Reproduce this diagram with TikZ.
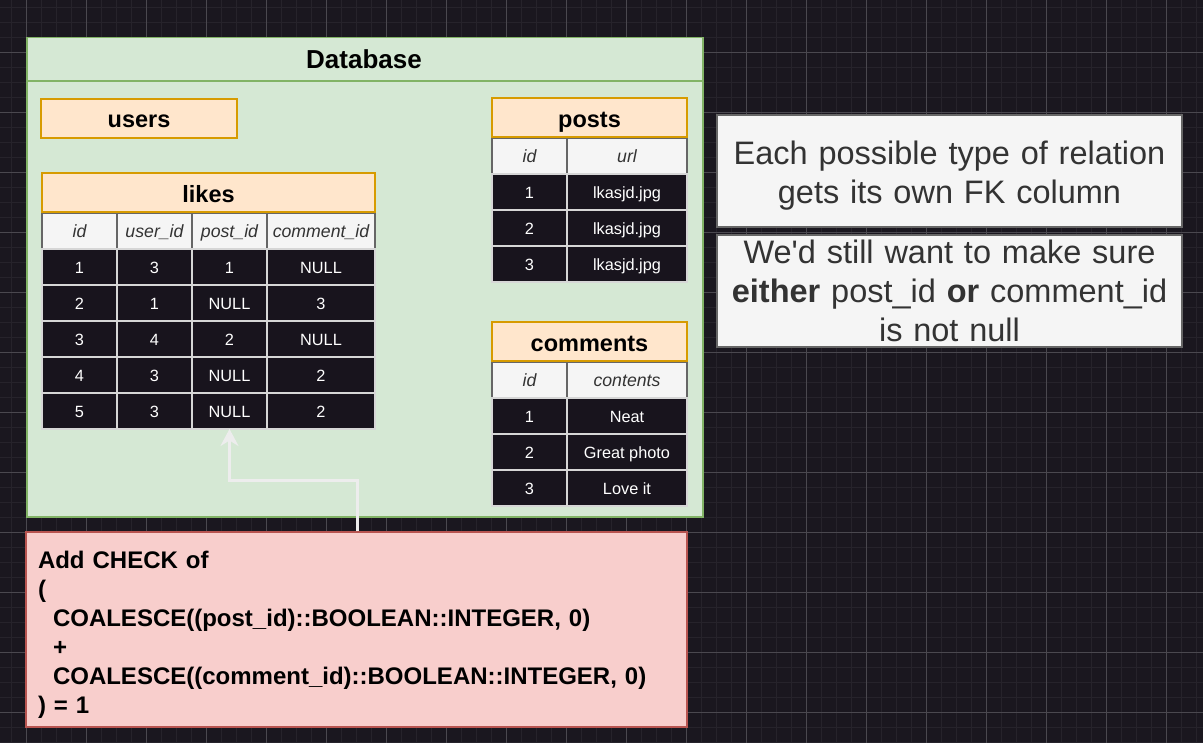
\documentclass[tikz,border=0pt]{standalone}
\usepackage{fontspec}
\setmainfont{Liberation Sans}
\newfontfamily\plainfont{Liberation Sans}
\usepackage{xcolor}
\usepackage{tikz}
\usetikzlibrary{matrix}
\usetikzlibrary{positioning}
\usetikzlibrary{arrows.meta}

\definecolor{canvas}{HTML}{1A171F}
\definecolor{gridminor}{HTML}{26232B}
\definecolor{gridmajor}{HTML}{4A484F}
\definecolor{dbfill}{HTML}{D5E8D4}
\definecolor{dbline}{HTML}{82B366}
\definecolor{hdfill}{HTML}{FFE6CC}
\definecolor{hdline}{HTML}{D79B00}
\definecolor{notefill}{HTML}{F5F5F5}
\definecolor{noteline}{HTML}{666666}
\definecolor{notetext}{HTML}{333333}
\definecolor{rowfill}{HTML}{18141D}
\definecolor{rowline}{HTML}{D6D6D6}
\definecolor{chkfill}{HTML}{F8CECC}
\definecolor{chkline}{HTML}{B85450}

\tikzstyle{tblhead} = [draw=hdline, fill=hdfill, line width=1.5pt, minimum height=39pt,
	inner sep=0pt, outer sep=0pt, text height=19pt, text depth=0pt,
	font=\bfseries\fontsize{23.5}{28}\selectfont]
\tikzstyle{colhead} = [draw=noteline, fill=notefill, text=notetext, text height=13.4pt,
	font=\itshape\fontsize{17.7}{21}\selectfont]
\tikzstyle{tbl} = [matrix of nodes, inner sep=0pt, outer sep=0pt, column sep=-1.5pt, row sep=-1.5pt,
	nodes={draw=rowline, fill=rowfill, line width=1.5pt, text=white, minimum width=75pt,
		minimum height=36pt, inner sep=0pt, outer sep=0pt, text height=12.6pt, text depth=0pt,
		font=\fontsize{16.3}{19.5}\selectfont},
	row 1/.style={nodes=colhead}]
\tikzstyle{note} = [draw=noteline, fill=notefill, text=notetext, line width=1.5pt,
	minimum width=465pt, minimum height=112pt, text width=450pt, align=center,
	font=\fontsize{32.5}{39}\selectfont]
\tikzstyle{chk} = [draw=chkline, fill=chkfill, line width=1.5pt, minimum width=661pt,
	minimum height=195pt, text width=637pt, align=left, font=\bfseries\fontsize{24}{29}\selectfont]
\tikzstyle{link} = [draw=white!93!black, line width=3pt]

\begin{document}
\begin{tikzpicture}[x=1pt,y=-1pt,>={Stealth[length=17pt,width=18pt]}]
   \useasboundingbox[fill=canvas] (0,0) rectangle (1203,743);
   \begin{scope}[shift={(26,-8)}]
      \draw[gridminor, step=15pt] (-26,751) grid (1177,8);
      \draw[gridmajor, step=60pt] (-26,751) grid (1177,8);
   \end{scope}

   % database frame
   \node[draw=dbline, fill=dbfill, line width=1.5pt, minimum width=676pt, minimum height=479pt,
      anchor=north west, inner sep=0pt] (db) at (26,37) {};
   \draw[dbline, line width=1.5pt] (26,81) -- (702,81);
   \node[font=\bfseries\fontsize{26}{31}\selectfont] (dbtitle) at (364,59) {Database};

   % tables
   \node[tblhead, minimum width=196pt, anchor=north west] (users) at (41,99) {users};

   \matrix (likes) [tbl, matrix anchor=north west, column 4/.style={nodes={minimum width=108pt}}] at (41.25,212.25) {
   	id & user\_id & post\_id & comment\_id \\
   	1 & 3 & 1 & NULL \\
   	2 & 1 & NULL & 3 \\
   	3 & 4 & 2 & NULL \\
   	4 & 3 & NULL & 2 \\
   	5 & 3 & NULL & 2 \\
   };
   \node[tblhead, minimum width=333pt, above=0pt of likes] (likeshead) {likes};

   \matrix (posts) [tbl, matrix anchor=north west, column 2/.style={nodes={minimum width=120pt}}] at (491.25,137.25) {
   	id & url \\
   	1 & lkasjd.jpg \\
   	2 & lkasjd.jpg \\
   	3 & lkasjd.jpg \\
   };
   \node[tblhead, minimum width=195pt, above=0pt of posts] (postshead) {posts};

   \matrix (comments) [tbl, matrix anchor=north west, column 2/.style={nodes={minimum width=120pt}}] at (491.25,361.25) {
   	id & contents \\
   	1 & Neat \\
   	2 & Great photo \\
   	3 & Love it \\
   };
   \node[tblhead, minimum width=195pt, above=0pt of comments] (commentshead) {comments};

   % notes
   \node[note] (fknote) at (949.5,171) {\rule{0pt}{33pt}Each possible type of relation\\gets its own FK column};
   \node[note] (nullnote) at (949.5,291) {We{\plainfont'}d still want to make sure\\\textbf{either} post\_id \textbf{or} comment\_id\\is not null};

   \node[chk] (check) at (356.5,629.5) {\rule{0pt}{28pt}Add CHECK of\\
   	(\\
   	\hspace*{15pt}COALESCE((post\_id)::BOOLEAN::INTEGER, 0)\\
   	\hspace*{15pt}+\\
   	\hspace*{15pt}COALESCE((comment\_id)::BOOLEAN::INTEGER, 0)\\
   	) = 1};

   \coordinate (bend) at (357,480);
   \draw[link,->] (check.north -| bend) -- (bend) -| (likes-6-3.south);
\end{tikzpicture}
\end{document}
